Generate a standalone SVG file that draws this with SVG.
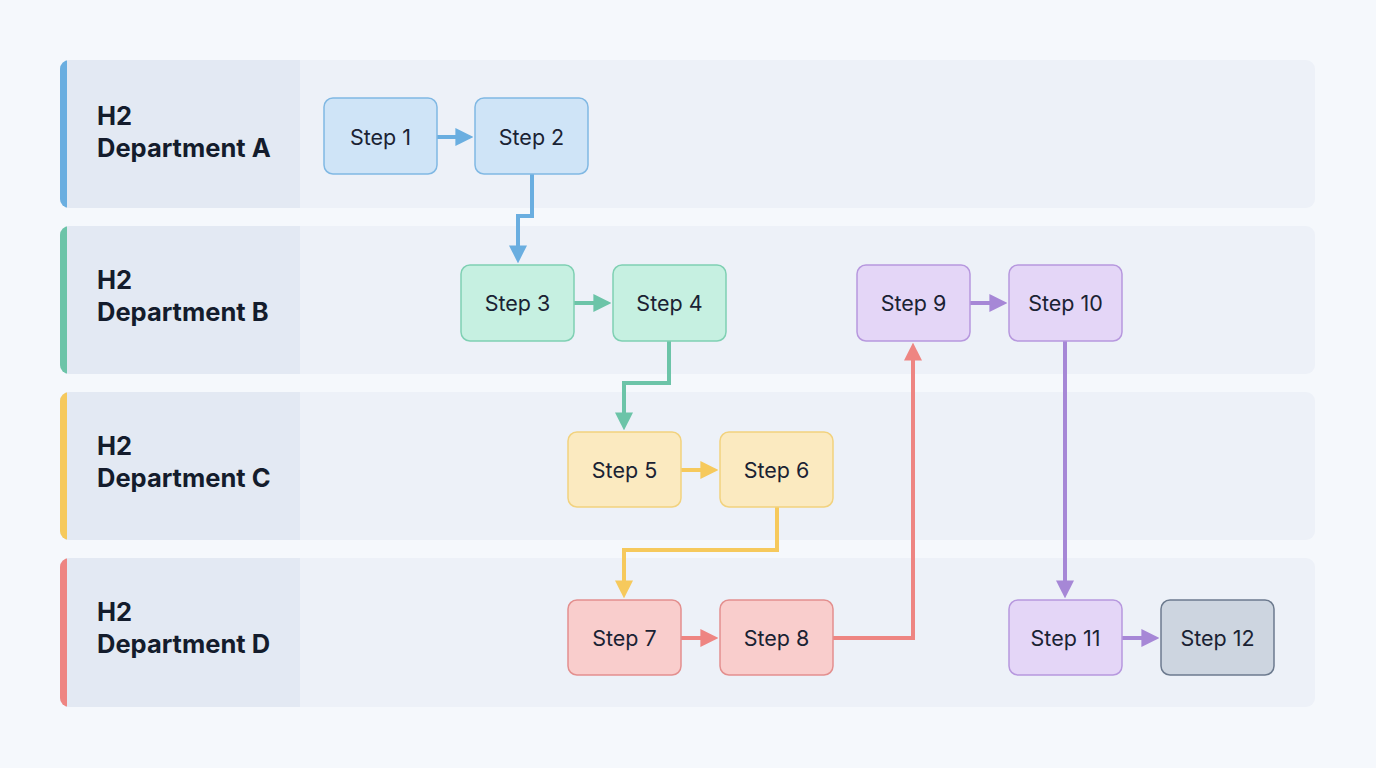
<svg xmlns="http://www.w3.org/2000/svg" width="1376" height="768" viewBox="0 0 1376 768">
<defs>
<style>
.lane{fill:#edf1f8}
.hdr{fill:#e3e9f3}
.ht{font-family:Inter,"Liberation Sans",sans-serif;font-size:25.5px;font-weight:700;fill:#141c2c}
.nt{font-family:Inter,"Liberation Sans",sans-serif;font-size:21.5px;fill:#1a2233;text-anchor:middle;dominant-baseline:central}
.n{stroke-width:1.5}
.blue{fill:#cfe4f7;stroke:#80b8e3}
.green{fill:#c6f0e1;stroke:#7fd0b3}
.yellow{fill:#fbeac0;stroke:#f2d27e}
.red{fill:#f9cdcc;stroke:#e38f8e}
.purple{fill:#e4d6f7;stroke:#b798de}
.gray{fill:#cdd5e0;stroke:#6c7a8e}
.c{fill:none;stroke-width:4;stroke-linejoin:miter}
</style>
<marker id="mb" markerWidth="4.5" markerHeight="4.5" refX="1" refY="2.5" orient="auto" markerUnits="strokeWidth" viewBox="0 0 5 5"><path d="M0,0 L5,2.5 L0,5 z" fill="#6aaee0"/></marker>
<marker id="mg" markerWidth="4.5" markerHeight="4.5" refX="1" refY="2.5" orient="auto" markerUnits="strokeWidth" viewBox="0 0 5 5"><path d="M0,0 L5,2.5 L0,5 z" fill="#6cc4a8"/></marker>
<marker id="my" markerWidth="4.5" markerHeight="4.5" refX="1" refY="2.5" orient="auto" markerUnits="strokeWidth" viewBox="0 0 5 5"><path d="M0,0 L5,2.5 L0,5 z" fill="#f6c95c"/></marker>
<marker id="mr" markerWidth="4.5" markerHeight="4.5" refX="1" refY="2.5" orient="auto" markerUnits="strokeWidth" viewBox="0 0 5 5"><path d="M0,0 L5,2.5 L0,5 z" fill="#ee8582"/></marker>
<marker id="mp" markerWidth="4.5" markerHeight="4.5" refX="1" refY="2.5" orient="auto" markerUnits="strokeWidth" viewBox="0 0 5 5"><path d="M0,0 L5,2.5 L0,5 z" fill="#a687d6"/></marker>
<clipPath id="cA"><rect x="60" y="60" width="1255" height="148" rx="9"/></clipPath>
<clipPath id="cB"><rect x="60" y="226" width="1255" height="148" rx="9"/></clipPath>
<clipPath id="cC"><rect x="60" y="392" width="1255" height="148" rx="9"/></clipPath>
<clipPath id="cD"><rect x="60" y="558" width="1255" height="149" rx="9"/></clipPath>
</defs>
<rect width="1376" height="768" fill="#f5f8fc"/>

<g id="laneA" clip-path="url(#cA)">
<rect class="lane" x="60" y="60" width="1255" height="148"/>
<rect class="hdr" x="60" y="60" width="240" height="148"/>
<rect x="60" y="60" width="7" height="148" fill="#6aaee0"/>
<text class="ht" x="97" y="125">H2</text>
<text class="ht" x="97" y="157">Department A</text>
</g>
<g id="laneB" clip-path="url(#cB)">
<rect class="lane" x="60" y="226" width="1255" height="148"/>
<rect class="hdr" x="60" y="226" width="240" height="148"/>
<rect x="60" y="226" width="7" height="148" fill="#6cc4a8"/>
<text class="ht" x="97" y="289">H2</text>
<text class="ht" x="97" y="321">Department B</text>
</g>
<g id="laneC" clip-path="url(#cC)">
<rect class="lane" x="60" y="392" width="1255" height="148"/>
<rect class="hdr" x="60" y="392" width="240" height="148"/>
<rect x="60" y="392" width="7" height="148" fill="#f6c95c"/>
<text class="ht" x="97" y="455">H2</text>
<text class="ht" x="97" y="487">Department C</text>
</g>
<g id="laneD" clip-path="url(#cD)">
<rect class="lane" x="60" y="558" width="1255" height="149"/>
<rect class="hdr" x="60" y="558" width="240" height="149"/>
<rect x="60" y="558" width="7" height="149" fill="#ee8582"/>
<text class="ht" x="97" y="621">H2</text>
<text class="ht" x="97" y="653">Department D</text>
</g>

<g id="connectors">
<path class="c" stroke="#6aaee0" marker-end="url(#mb)" d="M437,137 H459"/>
<path class="c" stroke="#6aaee0" marker-end="url(#mb)" d="M532,174 V216 H518 V249"/>
<path class="c" stroke="#6cc4a8" marker-end="url(#mg)" d="M574,303 H597"/>
<path class="c" stroke="#6cc4a8" marker-end="url(#mg)" d="M669,341 V383 H624 V416"/>
<path class="c" stroke="#f6c95c" marker-end="url(#my)" d="M681,470 H704"/>
<path class="c" stroke="#f6c95c" marker-end="url(#my)" d="M777,507 V550 H624 V584"/>
<path class="c" stroke="#ee8582" marker-end="url(#mr)" d="M681,638 H704"/>
<path class="c" stroke="#ee8582" marker-end="url(#mr)" d="M833,638 H913 V357"/>
<path class="c" stroke="#a687d6" marker-end="url(#mp)" d="M970,303 H993"/>
<path class="c" stroke="#a687d6" marker-end="url(#mp)" d="M1065,341 V584"/>
<path class="c" stroke="#a687d6" marker-end="url(#mp)" d="M1122,638 H1145"/>
</g>

<g id="step1"><rect class="n blue" x="324" y="98" width="113" height="76" rx="9"/><text class="nt" x="380.5" y="137">Step 1</text></g>
<g id="step2"><rect class="n blue" x="475" y="98" width="113" height="76" rx="9"/><text class="nt" x="531.5" y="137">Step 2</text></g>
<g id="step3"><rect class="n green" x="461" y="265" width="113" height="76" rx="9"/><text class="nt" x="517.5" y="303">Step 3</text></g>
<g id="step4"><rect class="n green" x="613" y="265" width="113" height="76" rx="9"/><text class="nt" x="669.5" y="303">Step 4</text></g>
<g id="step5"><rect class="n yellow" x="568" y="432" width="113" height="75" rx="9"/><text class="nt" x="624.5" y="470">Step 5</text></g>
<g id="step6"><rect class="n yellow" x="720" y="432" width="113" height="75" rx="9"/><text class="nt" x="776.5" y="470">Step 6</text></g>
<g id="step7"><rect class="n red" x="568" y="600" width="113" height="75" rx="9"/><text class="nt" x="624.5" y="638">Step 7</text></g>
<g id="step8"><rect class="n red" x="720" y="600" width="113" height="75" rx="9"/><text class="nt" x="776.5" y="638">Step 8</text></g>
<g id="step9"><rect class="n purple" x="857" y="265" width="113" height="76" rx="9"/><text class="nt" x="913.5" y="303">Step 9</text></g>
<g id="step10"><rect class="n purple" x="1009" y="265" width="113" height="76" rx="9"/><text class="nt" x="1065.5" y="303">Step 10</text></g>
<g id="step11"><rect class="n purple" x="1009" y="600" width="113" height="75" rx="9"/><text class="nt" x="1065.5" y="638">Step 11</text></g>
<g id="step12"><rect class="n gray" x="1161" y="600" width="113" height="75" rx="9"/><text class="nt" x="1217.5" y="638">Step 12</text></g>
</svg>
